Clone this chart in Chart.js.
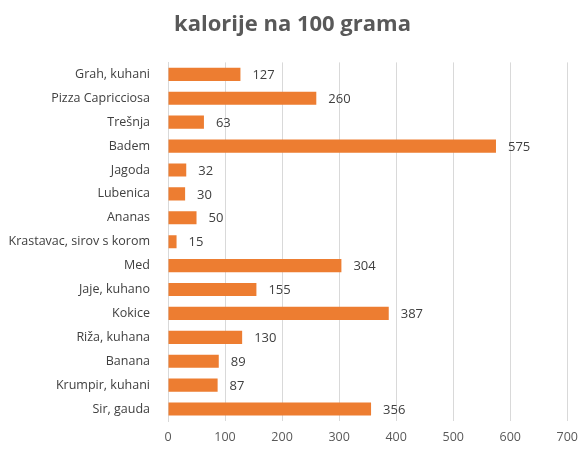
<!DOCTYPE html>
<html>
<head>
<meta charset="utf-8">
<script src="https://cdn.jsdelivr.net/npm/chart.js@4"></script>
<style>
  body { margin: 0; background: #fff; }
  #wrap { width: 587px; height: 450px; }
</style>
</head>
<body>
<div id="wrap"><canvas id="chart"></canvas></div>
<script>
let labels = ['Grah, kuhani', 'Pizza Capricciosa', 'Trešnja', 'Badem', 'Jagoda', 'Lubenica', 'Ananas',
  'Krastavac, sirov s korom', 'Med', 'Jaje, kuhano', 'Kokice', 'Riža, kuhana', 'Banana', 'Krumpir, kuhani', 'Sir, gauda'];
let kalorije = [127, 260, 63, 575, 32, 30, 50, 15, 304, 155, 387, 130, 89, 87, 356];
let xTicks = [0, 100, 200, 300, 400, 500, 600, 700];

// draw value labels at the end of each bar
let valueLabels = {
  id: 'valueLabels',
  afterDatasetsDraw(chart) {
    let ctx = chart.ctx;
    let meta = chart.getDatasetMeta(0);
    ctx.save();
    ctx.font = '13px "Open Sans", sans-serif';
    ctx.fillStyle = '#404040';
    ctx.textBaseline = 'middle';
    meta.data.forEach((bar, i) => {
      ctx.fillText(chart.data.datasets[0].data[i], bar.x + 12, bar.y + 1);
    });
    ctx.restore();
  }
};

let ctx = document.getElementById('chart').getContext('2d');
let chart = new Chart(ctx, {
  type: 'bar',
  data: {
    labels: labels,
    datasets: [{
      data: kalorije,
      backgroundColor: '#ED7D31',
      borderWidth: 0,
      barPercentage: 0.55,
      categoryPercentage: 1.0
    }]
  },
  options: {
    indexAxis: 'y',
    responsive: true,
    maintainAspectRatio: false,
    animation: false,
    layout: { padding: { left: 4, right: 6, top: 8, bottom: 0 } },
    plugins: {
      legend: { display: false },
      tooltip: { enabled: false },
      title: {
        display: true,
        text: 'kalorije na 100 grama',
        color: '#595959',
        font: { family: '"Open Sans", sans-serif', size: 22, weight: 'bold' },
        padding: { top: 4, bottom: 24 }
      }
    },
    scales: {
      x: {
        min: 0,
        max: 700,
        afterBuildTicks: (axis) => { axis.ticks = xTicks.map(v => ({ value: v })); },
        afterFit: (axis) => { axis.height = 29; },
        grid: { color: '#d9d9d9', drawTicks: false },
        border: { display: false },
        ticks: { color: '#595959', font: { family: '"Open Sans", sans-serif', size: 12.5 }, padding: 9 }
      },
      y: {
        grid: { display: false },
        border: { color: '#d9d9d9' },
        afterFit: (axis) => { axis.width = 164; },
        ticks: { color: '#404040', font: { family: '"Open Sans", sans-serif', size: 12.5 }, padding: 10, autoSkip: false }
      }
    }
  },
  plugins: [valueLabels]
});
</script>
</body>
</html>
